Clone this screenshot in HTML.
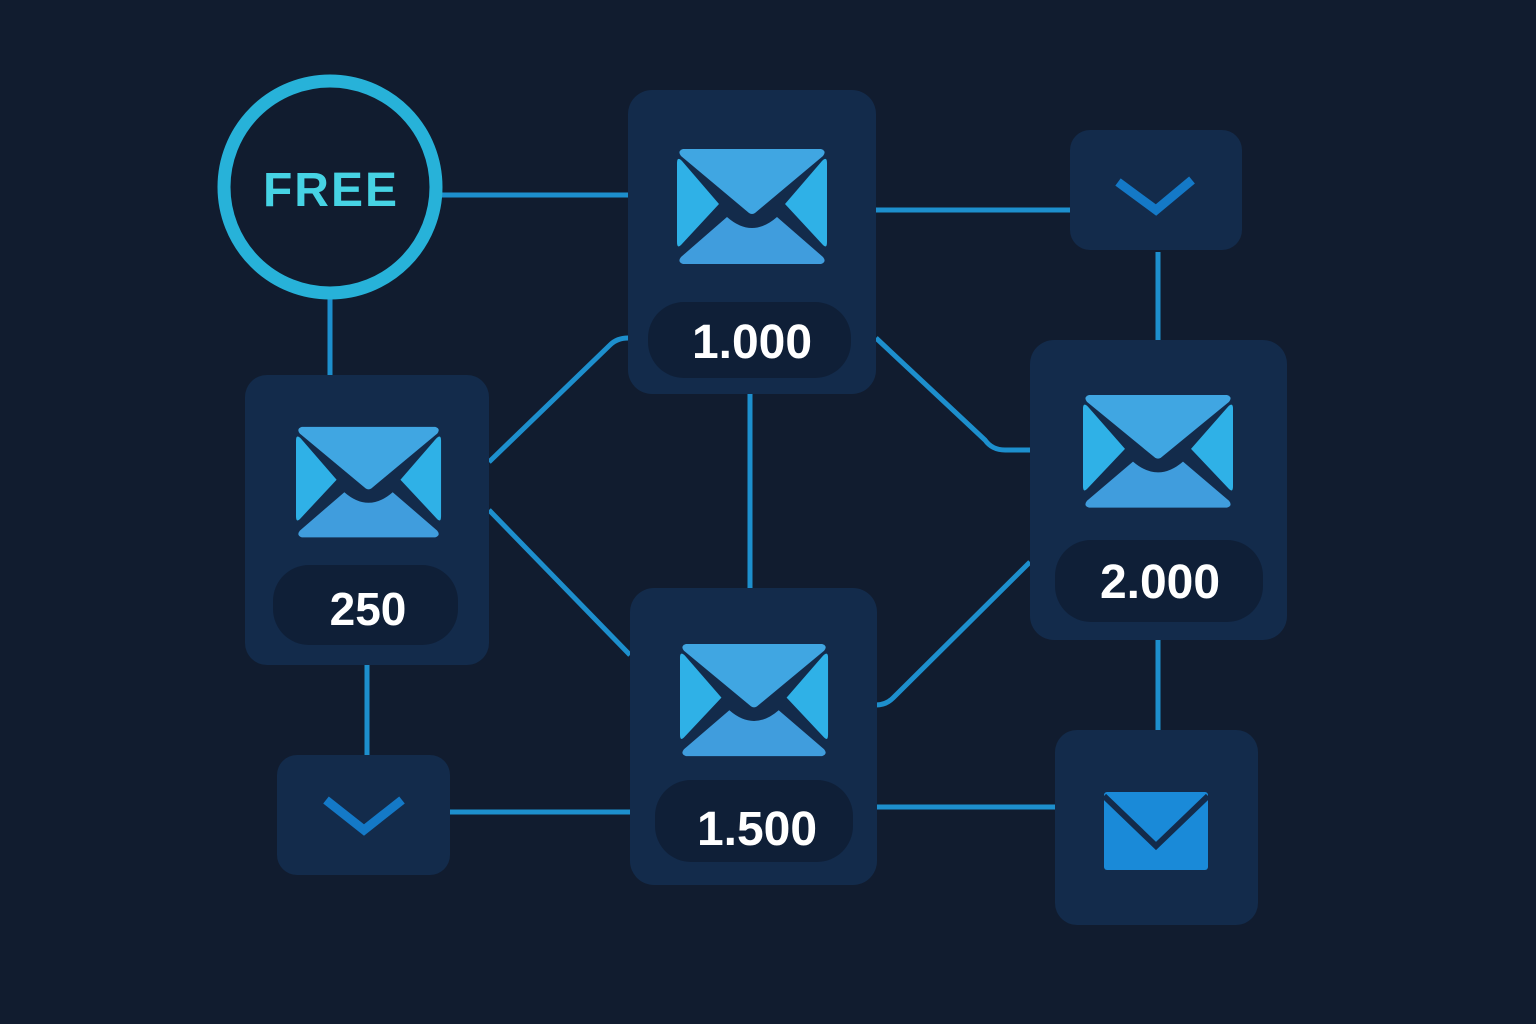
<!DOCTYPE html>
<html><head><meta charset="utf-8"><style>html,body{margin:0;padding:0;background:#111c2f;}svg{display:block}</style></head>
<body>
<svg width="1536" height="1024" viewBox="0 0 1536 1024" xmlns="http://www.w3.org/2000/svg">
<defs>
<g id="env">
<path d="M6,2 L144,2 Q150,4 146,9 L78,66 Q75,68 72,66 L4,9 Q0,4 6,2 Z" fill="#40a6e2"/>
<path d="M0,16 Q0,9 5,14 L42,57 L4,98 Q0,102 0,95 Z" fill="#2fb1e7"/>
<path d="M150,16 Q150,9 145,14 L108,57 L146,98 Q150,102 150,95 Z" fill="#2fb1e7"/>
<path d="M6,117 L144,117 Q150,115 146,110 L100,70 Q75,92 50,70 L4,110 Q0,115 6,117 Z" fill="#409ddd"/>
</g>
</defs>
<rect width="1536" height="1024" fill="#111c2f"/>
<g stroke="#1d8fcd" stroke-width="5" fill="none">
<path d="M440,195 H628"/>
<path d="M876,210 H1070"/>
<path d="M1158,252 V340"/>
<path d="M330,298 V375"/>
<path d="M750,394 V588"/>
<path d="M489,462 L610,345 Q617,338 628,338"/>
<path d="M876,338 L985,440 Q992,450 1005,450 L1030,450"/>
<path d="M489,510 L630,655"/>
<path d="M876,705 Q886,705 893,698 L1030,562"/>
<path d="M367,665 V755"/>
<path d="M450,812 H630"/>
<path d="M876,807 H1055"/>
<path d="M1158,640 V730"/>
</g>
<circle cx="330" cy="187" r="106" fill="#111c2f" stroke="#27b2d9" stroke-width="13"/>
<text x="331" y="206" text-anchor="middle" font-family="Liberation Sans, sans-serif" font-weight="bold" font-size="48" fill="#46d3e4" letter-spacing="2">FREE</text>

<rect x="628" y="90" width="248" height="304" rx="24" fill="#132b4b"/>
<use href="#env" transform="translate(677,147)"/>
<rect x="648" y="302" width="203" height="76" rx="36" fill="#0f1f37"/>
<text x="752" y="358" text-anchor="middle" font-family="Liberation Sans, sans-serif" font-weight="bold" font-size="48" fill="#fff">1.000</text>

<rect x="245" y="375" width="244" height="290" rx="22" fill="#132b4b"/>
<use href="#env" transform="translate(296,425) scale(0.967,0.96)"/>
<rect x="273" y="565" width="185" height="80" rx="36" fill="#0f1f37"/>
<text x="368" y="625" text-anchor="middle" font-family="Liberation Sans, sans-serif" font-weight="bold" font-size="46" fill="#fff">250</text>

<rect x="1030" y="340" width="257" height="300" rx="24" fill="#132b4b"/>
<use href="#env" transform="translate(1083,393) scale(1,0.98)"/>
<rect x="1055" y="540" width="208" height="82" rx="36" fill="#0f1f37"/>
<text x="1160" y="598" text-anchor="middle" font-family="Liberation Sans, sans-serif" font-weight="bold" font-size="48" fill="#fff">2.000</text>

<rect x="630" y="588" width="247" height="297" rx="24" fill="#132b4b"/>
<use href="#env" transform="translate(680,642) scale(0.987,0.975)"/>
<rect x="655" y="780" width="198" height="82" rx="36" fill="#0f1f37"/>
<text x="757" y="845" text-anchor="middle" font-family="Liberation Sans, sans-serif" font-weight="bold" font-size="48" fill="#fff">1.500</text>

<rect x="1070" y="130" width="172" height="120" rx="20" fill="#132b4b"/>
<path d="M1118,182 L1156,210 L1192,180" fill="none" stroke="#1479c7" stroke-width="9"/>
<rect x="277" y="755" width="173" height="120" rx="20" fill="#132b4b"/>
<path d="M326,800 L364,830 L402,800" fill="none" stroke="#1479c7" stroke-width="9"/>

<rect x="1055" y="730" width="203" height="195" rx="22" fill="#132b4b"/>
<rect x="1104" y="792" width="104" height="78" rx="3" fill="#1a8ad8"/>
<path d="M1104,796 L1156,846 L1208,796" fill="none" stroke="#132b4b" stroke-width="6"/>
</svg>
</body></html>
